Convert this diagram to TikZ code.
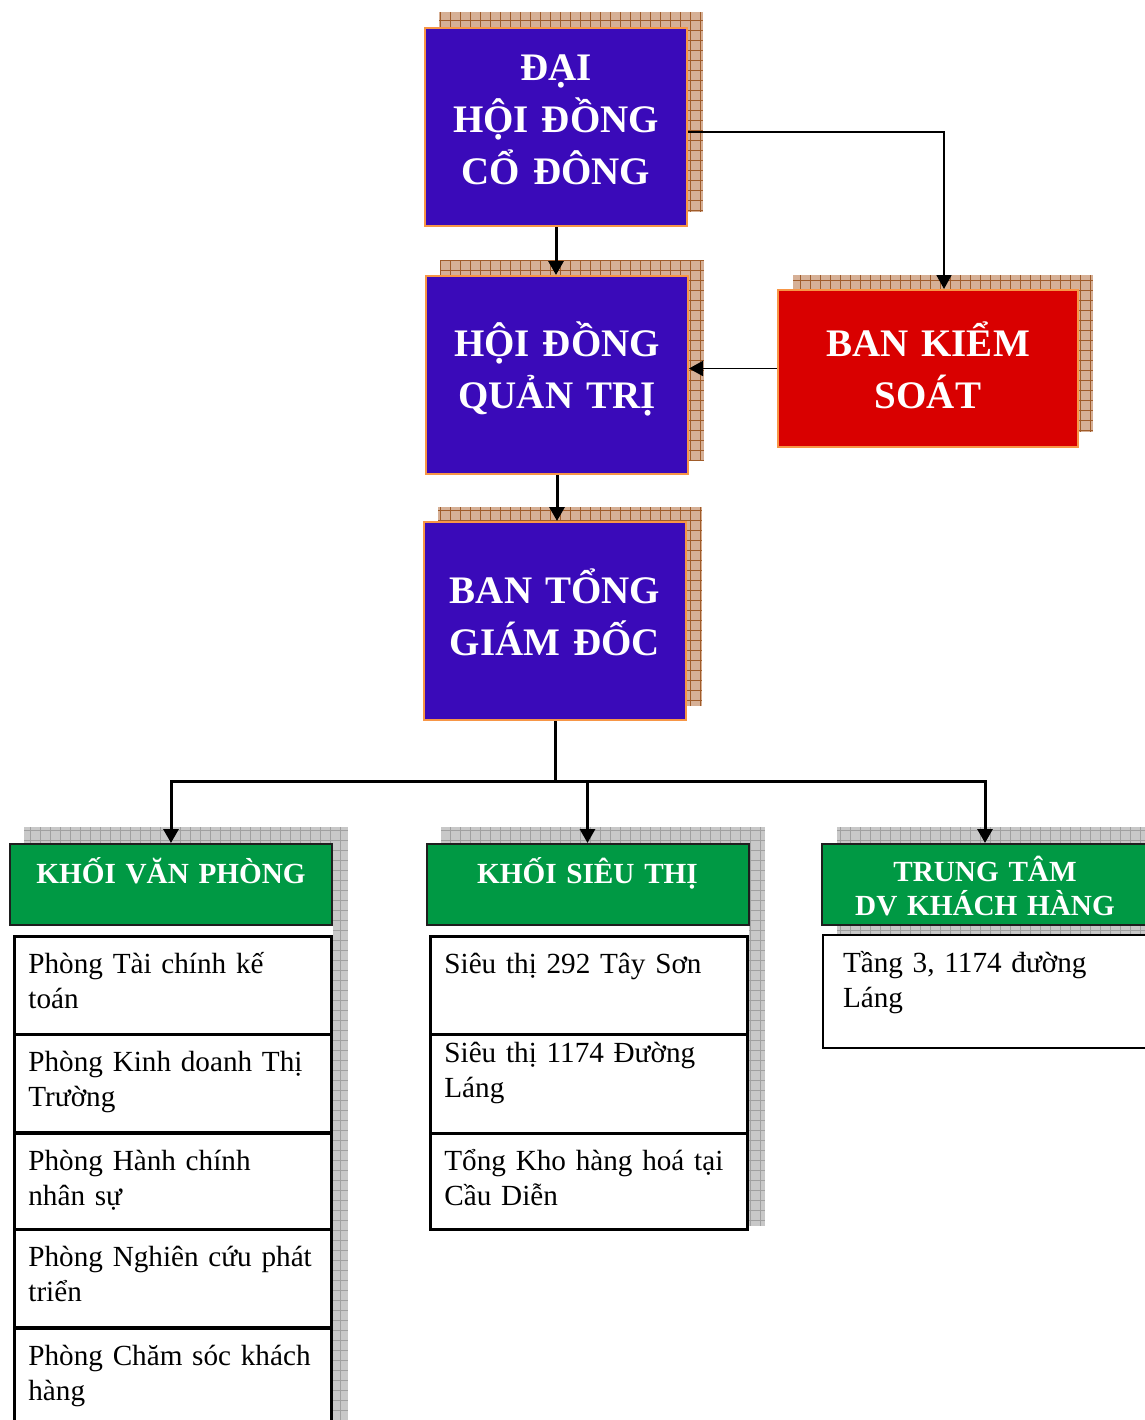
\documentclass[tikz,border=0pt]{standalone}
\usepackage{fontspec}
\setmainfont{Liberation Serif}
\usetikzlibrary{positioning, arrows.meta, calc}

\definecolor{boardblue}{RGB}{58,10,185}
\definecolor{controlred}{RGB}{217,0,0}
\definecolor{edgeorange}{RGB}{247,150,70}
\definecolor{headgreen}{RGB}{0,153,68}
\definecolor{headline}{RGB}{30,30,30}
\definecolor{shadowtan}{RGB}{214,176,150}
\definecolor{shadowbrown}{RGB}{160,92,42}
\definecolor{shadowgray}{RGB}{200,200,200}
\definecolor{gridgray}{RGB}{160,160,160}

% hatched shadow behind a box: x1 y1 x2 y2 fill lines
\newcommand{\gridshadow}[6]{%
  \fill[#5] (#1,#2) rectangle (#3,#4);
  \begin{scope}
    \clip (#1,#2) rectangle (#3,#4);
    \draw[#6, line width=0.5pt, step=5pt] (#1,#4) grid (#3,#2);
  \end{scope}}

\begin{document}
\begin{tikzpicture}[x=0.5pt, y=-0.5pt,
    mainbox/.style={rectangle, draw=edgeorange, line width=1pt, fill=boardblue,
                    text=white, font=\bfseries\fontsize{19.5}{26}\selectfont,
                    align=center, inner sep=0pt, text width=131pt, minimum height=99pt},
    redbox/.style={mainbox, fill=controlred, text width=150pt, minimum height=78.5pt},
    head/.style={rectangle, draw=headline, line width=1pt, fill=headgreen,
                 text=white, font=\bfseries\fontsize{14.6}{17}\selectfont,
                 align=center, inner sep=0pt, text width=161pt,
                 text height=19.5pt, text depth=21pt, anchor=north},
    item/.style={rectangle, draw, line width=1.4pt, fill=white, anchor=north west,
                 align=left, inner xsep=7pt, inner ysep=0pt, text width=144.5pt,
                 text height=18.5pt, text depth=30.5pt,
                 font=\fontsize{14.6}{17.5}\selectfont},
    arrow/.style={-{Triangle[length=7pt,width=7.5pt]}, line width=1.5pt},
    thinarrow/.style={arrow, line width=0.9pt}
]
  \clip (0,0) rectangle (1145,1420);

  % shadows
  \gridshadow{439}{12}{703}{212}{shadowtan}{shadowbrown}
  \gridshadow{440}{260}{704}{460}{shadowtan}{shadowbrown}
  \gridshadow{793}{275}{1093}{432}{shadowtan}{shadowbrown}
  \gridshadow{438}{507}{702}{706}{shadowtan}{shadowbrown}
  \gridshadow{24}{827}{348}{924}{shadowgray}{gridgray}
  \gridshadow{333}{924}{348}{1430}{shadowgray}{gridgray}
  \gridshadow{441}{827}{765}{924}{shadowgray}{gridgray}
  \gridshadow{749}{924}{765}{1226}{shadowgray}{gridgray}
  \gridshadow{837}{827}{1160}{1047}{shadowgray}{gridgray}

  % management
  \node[mainbox, text height=26pt, text depth=73pt] (agm) at (556,127) {ĐẠI\\HỘI ĐỒNG\\CỔ ĐÔNG};
  \node[mainbox, text height=40pt, text depth=59pt] (board) at (557,375) {HỘI ĐỒNG\\QUẢN TRỊ};
  \node[redbox, text height=33pt, text depth=45.5pt] (control) at (928,368.5) {BAN KIỂM\\SOÁT};
  \node[mainbox, text height=40.5pt, text depth=58.5pt] (ceo) at (555,621) {BAN TỔNG\\GIÁM ĐỐC};

  % divisions
  \node[head] (office) at (171,843) {KHỐI VĂN PHÒNG};
  \node[item] (finance) at (13,935) {Phòng Tài chính kế\\toán};
  \node[item] (sales) at (13,1033) {Phòng Kinh doanh Thị\\Trường};
  \node[item] (hr) at (13,1132) {Phòng Hành chính\\nhân sự};
  \node[item] (rnd) at (13,1228) {Phòng Nghiên cứu phát\\triển};
  \node[item] (care) at (13,1327) {Phòng Chăm sóc khách\\hàng};

  \node[head] (market) at (587.5,843) {KHỐI SIÊU THỊ};
  \node[item] (shopa) at (429,935) {Siêu thị 292 Tây Sơn};
  \node[item, text height=14pt, text depth=35.5pt] (shopb) at (429,1033) {Siêu thị 1174 Đường\\Láng};
  \node[item, text depth=29.5pt] (store) at (429,1132) {Tổng Kho hàng hoá tại\\Cầu Diễn};

  \node[head, text width=163pt, path picture={
      \clip (path picture bounding box.north west) rectangle ([yshift=5pt]path picture bounding box.south east);
      \node[draw=none, fill=none, text=white, font=\bfseries\fontsize{14.6}{17}\selectfont,
            align=center, inner sep=0pt, text width=163pt, text height=18pt,
            text depth=22.5pt, anchor=north] at (path picture bounding box.north) {TRUNG TÂM\\DV KHÁCH HÀNG};
    }] (service) at (985,843) {};
  \node[item, line width=1pt, inner xsep=10pt, text width=170pt, text depth=38pt] (floor) at (822,934) {Tầng 3, 1174 đường\\Láng};

  % connectors
  \draw[arrow] (agm.south) -- (agm.south |- board.north);
  \draw[thinarrow] ([yshift=-2.5pt]agm.east) -| ([xshift=8pt]control.north);
  \draw[thinarrow] (control.west) -- (control.west -| board.east);
  \draw[arrow] (board.south) -- (board.south |- ceo.north);
  \coordinate (bus) at (555,781);
  \draw[line width=1.5pt] (ceo.south) -- (bus);
  \draw[arrow] (bus) -| (office.north);
  \draw[arrow] (bus) -| (market.north);
  \draw[arrow] (bus) -| (service.north);
\end{tikzpicture}
\end{document}
